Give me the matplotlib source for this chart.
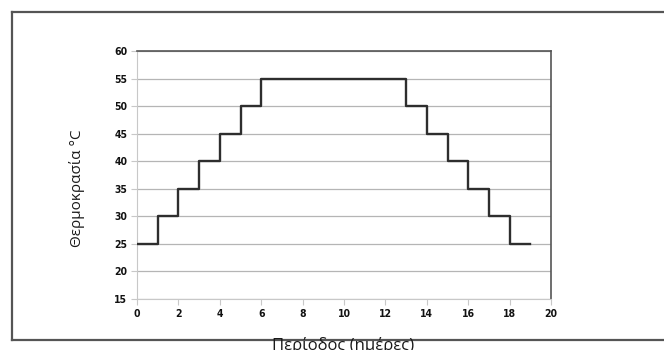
import numpy as np
import matplotlib
matplotlib.use('Agg')
import matplotlib.pyplot as plt
from matplotlib.lines import Line2D

# step profile: temperature held for each day (post steps)
days = [0, 1, 2, 3, 4, 5, 6, 7, 8, 9, 10, 11, 12, 13, 14, 15, 16, 17, 18, 19]
temps = [25, 30, 35, 40, 45, 50, 55, 55, 55, 55, 55, 55, 55, 50, 45, 40, 35, 30, 25, 25]

x_ticks = [0, 2, 4, 6, 8, 10, 12, 14, 16, 18, 20]
y_ticks = [15, 20, 25, 30, 35, 40, 45, 50, 55, 60]

fig = plt.figure(figsize=(6.64, 3.5), dpi=100)
ax = fig.add_axes([137 / 664, 1 - 299 / 350, (551 - 137) / 664, (299 - 51) / 350])

ax.step(days, temps, where='post', color='#2e2e2e', lw=1.7, zorder=3)

ax.set_xlim(0, 20)
ax.set_ylim(15, 60)
ax.set_xticks(x_ticks)
ax.set_yticks(y_ticks)
ax.grid(True, axis='y', color='#b5b5b5', lw=0.9)
ax.set_axisbelow(True)

for side in ['left', 'bottom']:
    ax.spines[side].set_color('#c8c8c8')
for side in ['top', 'right']:
    ax.spines[side].set_color('#555555')
    ax.spines[side].set_linewidth(1.2)

ax.tick_params(length=4, color='#c8c8c8', pad=3)
for lab in ax.get_xticklabels() + ax.get_yticklabels():
    lab.set_fontweight('bold')
    lab.set_fontstretch('condensed')
    lab.set_fontsize(7.5)
    lab.set_color('#111111')

# frame round the chart
for xs, ys in [([12, 12], [12, 340]), ([12, 664], [12, 12]), ([12, 664], [340, 340])]:
    fig.add_artist(Line2D([v / 664 for v in xs], [1 - v / 350 for v in ys],
                          color='#555555', lw=1.6))

fig.text(77 / 664, 1 - 188 / 350, 'Θερμοκρασία °C', rotation=90, ha='center', va='center',
         fontsize=11, family='Open Sans', color='#1a1a1a')
fig.text(343 / 664, 1 - 337 / 350, 'Περίοδος (ημέρες)', ha='center', va='top',
         fontsize=12, family='Open Sans', color='#1a1a1a')

fig.savefig('out.png', dpi=100)
